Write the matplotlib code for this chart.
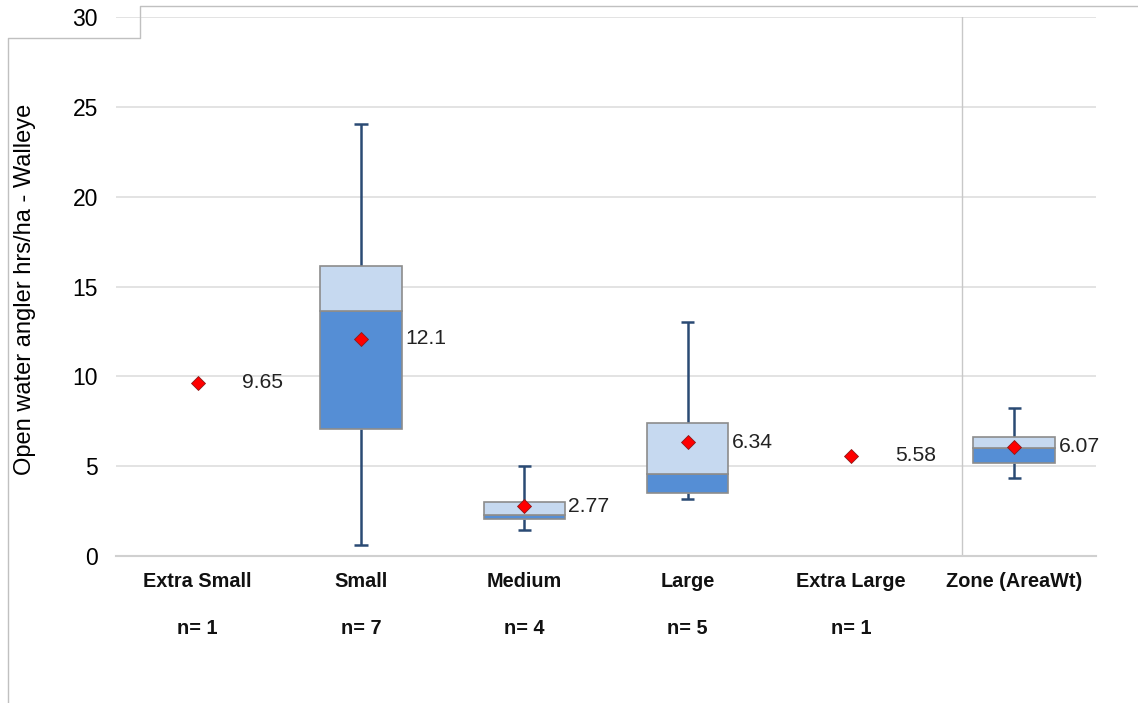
import numpy as np
import matplotlib
matplotlib.use('Agg')
import matplotlib.pyplot as plt
from matplotlib.lines import Line2D

categories = ["Extra Small", "Small", "Medium", "Large", "Extra Large", "Zone (AreaWt)"]
counts = ["n= 1", "n= 7", "n= 4", "n= 5", "n= 1", ""]
means = [9.65, 12.1, 2.77, 6.34, 5.58, 6.07]
mean_labels = ["9.65", "12.1", "2.77", "6.34", "5.58", "6.07"]
whisker_lo = [np.nan, 0.61, 1.45, 3.15, np.nan, 4.36]
q1 = [np.nan, 7.07, 2.06, 3.52, np.nan, 5.16]
median = [np.nan, 13.63, 2.27, 4.56, np.nan, 5.99]
q3 = [np.nan, 16.14, 3.0, 7.38, np.nan, 6.6]
whisker_hi = [np.nan, 24.04, 5.0, 13.02, np.nan, 8.25]

plt.rcParams['font.family'] = ['Liberation Sans', 'DejaVu Sans']

W, H = 1138, 703
fig = plt.figure(figsize=(W / 100, H / 100), dpi=100)
ax = fig.add_axes([116 / W, 1 - 556 / H, 980 / W, 539 / H])

x = np.arange(len(categories))
q1a, meda, q3a = np.array(q1), np.array(median), np.array(q3)
lo, hi = np.array(whisker_lo), np.array(whisker_hi)
has_box = ~np.isnan(q1a)
xb = x[has_box]

whisk_col = '#2a4a74'
# whiskers
ax.vlines(xb, lo[has_box], q1a[has_box], color=whisk_col, lw=1.8, zorder=2)
ax.vlines(xb, q3a[has_box], hi[has_box], color=whisk_col, lw=1.8, zorder=2)
cap = 0.04
ax.hlines(lo[has_box], xb - cap, xb + cap, color=whisk_col, lw=1.8, zorder=2)
ax.hlines(hi[has_box], xb - cap, xb + cap, color=whisk_col, lw=1.8, zorder=2)

# boxes
ax.bar(xb, meda[has_box] - q1a[has_box], 0.5, bottom=q1a[has_box],
       color='#558ed5', edgecolor='#8c8c8c', lw=1.2, zorder=3)
ax.bar(xb, q3a[has_box] - meda[has_box], 0.5, bottom=meda[has_box],
       color='#c6d9f0', edgecolor='#8c8c8c', lw=1.2, zorder=3)

# means
ax.plot(x, means, linestyle='none', marker='D', markersize=7, color='#ff0000',
        markeredgecolor='#8b1a1a', markeredgewidth=0.6, zorder=5)
for xi, m, lab in zip(x, means, mean_labels):
    ax.text(xi + 0.27, m, lab, ha='left', va='center', fontsize=15.2,
            color='#222222', zorder=6)

ax.axvline(4.68, color='#c8c8c8', lw=1.0, zorder=1)

ax.set_xlim(-0.5, 5.5)
ax.set_ylim(0, 30)
ax.set_yticks(range(0, 31, 5))
ax.yaxis.grid(True, color='#dedede', lw=1.2)
ax.set_axisbelow(True)
for s in ['top', 'right', 'left']:
    ax.spines[s].set_visible(False)
ax.spines['bottom'].set_color('#d0d0d0')
ax.spines['bottom'].set_linewidth(1.5)
ax.tick_params(axis='y', length=0, labelsize=16.5, pad=13)
ax.tick_params(axis='x', length=0, labelbottom=False)

trans = ax.get_xaxis_transform()
for xi, c, n in zip(x, categories, counts):
    ax.text(xi, -0.048, c, transform=trans, ha='center', va='center',
            fontsize=14.3, fontweight='bold', color='#111111')
    ax.text(xi, -0.134, n, transform=trans, ha='center', va='center',
            fontsize=14.3, fontweight='bold', color='#111111')

ax.set_ylabel("Open water angler hrs/ha - Walleye", fontsize=17)
ax.yaxis.set_label_coords(-80 / 980, 0.495)

# outer frame
frame = '#c0c0c0'
pts = [(1138, 6), (140, 6), (140, 38), (8, 38), (8, 703)]
xs = [p[0] / W for p in pts]
ys = [1 - p[1] / H for p in pts]
fig.add_artist(Line2D(xs, ys, color=frame, lw=1.0, transform=fig.transFigure))

fig.savefig('out.png', dpi=100)
